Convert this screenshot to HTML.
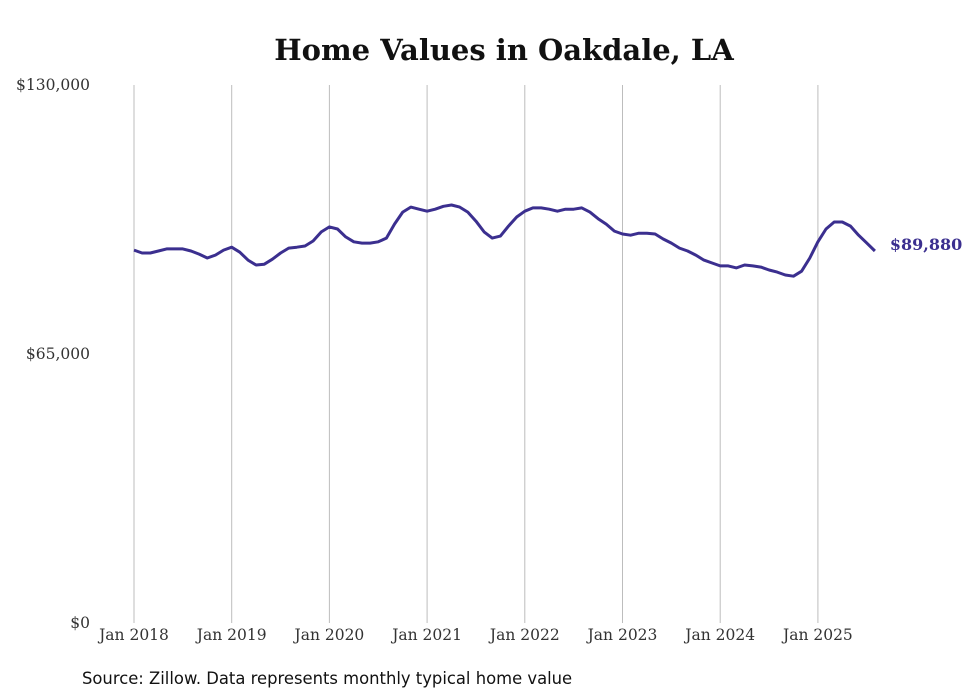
<!DOCTYPE html>
<html><head><meta charset="utf-8"><style>
body{margin:0;background:#fff;width:980px;height:699px;overflow:hidden}
svg{display:block}
</style></head><body>
<svg id="chart" width="980" height="699" xmlns="http://www.w3.org/2000/svg">
<text x="504" y="60" text-anchor="middle" font-family="'DejaVu Serif',serif" font-weight="bold" font-size="29" fill="#111">Home Values in Oakdale, LA</text>
<g id="grid"></g><g id="yaxis"></g><g id="xaxis"></g><g id="series"></g>
<text x="82" y="684" font-family="'DejaVu Sans',sans-serif" font-size="16.4" fill="#111">Source: Zillow. Data represents monthly typical home value</text>
</svg>
<script>
const yTicks=[0,65000,130000];
const yTickLabels=["$0","$65,000","$130,000"];
const xYears=[2018,2019,2020,2021,2022,2023,2024,2025];
const xTickLabels=["Jan 2018","Jan 2019","Jan 2020","Jan 2021","Jan 2022","Jan 2023","Jan 2024","Jan 2025"];
const values=[
90100,89400,89400,89900,90400,90400,90400,89900,89150,88200,88900,90100,
90800,89600,87700,86500,86700,87900,89400,90600,90800,91100,92300,94500,
95700,95200,93300,92100,91800,91800,92100,93000,96400,99300,100500,100000,
99500,100000,100700,101000,100500,99300,97100,94500,93000,93500,95900,98100,
99500,100300,100300,100000,99500,100000,100000,100300,99300,97700,96400,94700,
94000,93700,94200,94200,94000,92800,91800,90600,89900,88900,87700,87000,
86300,86300,85800,86500,86300,86000,85300,84800,84100,83800,85000,88200,
92100,95200,96900,96900,95900,93700,91800,89880];
const endLabel="$89,880";
const NS="http://www.w3.org/2000/svg";
const x0=134,pxYear=97.7,yBase=623,yTop=85,yMax=130000;
const xs=m=>x0+m*pxYear/12;
const ys=v=>yBase-(v/yMax)*(yBase-yTop);
function mk(t,a){const e=document.createElementNS(NS,t);for(const k in a)e.setAttribute(k,a[k]);return e;}
const grid=document.getElementById('grid'),ya=document.getElementById('yaxis'),xa=document.getElementById('xaxis'),se=document.getElementById('series');
xYears.forEach((yr,i)=>{
  const x=xs((yr-2018)*12);
  const l=mk('line',{x1:x,x2:x,y1:yTop,y2:yBase,stroke:'#bdbdbd','stroke-width':1});
  
  
  grid.appendChild(l);
  const t=mk('text',{x:x,y:640,'text-anchor':'middle','font-family':"'DejaVu Serif',serif",'font-size':15.5,fill:'#333'});
  t.textContent=xTickLabels[i];
  
  
  xa.appendChild(t);
});
yTicks.forEach((v,i)=>{
  const t=mk('text',{x:90,y:ys(v)+5,'text-anchor':'end','font-family':"'DejaVu Serif',serif",'font-size':15.5,fill:'#333'});
  t.textContent=yTickLabels[i];
  
  
  ya.appendChild(t);
});
const d=values.map((v,i)=>(i?'L':'M')+xs(i).toFixed(1)+','+ys(v).toFixed(1)).join('');
const p=mk('path',{d:d,fill:'none',stroke:'#3b2f8f','stroke-width':3,'stroke-linejoin':'round'});


se.appendChild(p);
const n=values.length-1;
const lb=mk('text',{x:xs(n)+15,y:ys(values[n])-1,'font-family':"'DejaVu Serif',serif",'font-weight':'bold','font-size':16,fill:'#3b2f8f'});
lb.textContent=endLabel;


se.appendChild(lb);
</script>
</body></html>
